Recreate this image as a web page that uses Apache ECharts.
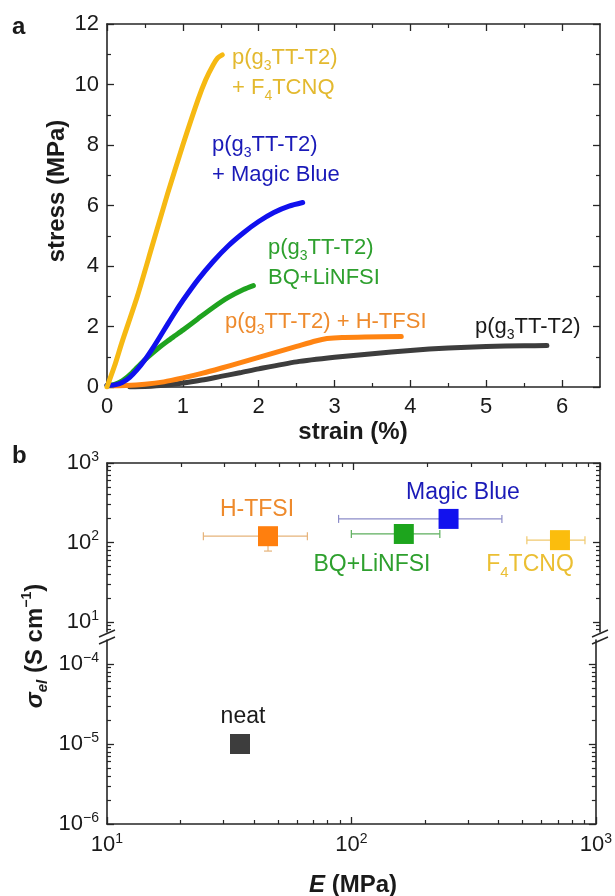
<!DOCTYPE html>
<html>
<head>
<meta charset="utf-8">
<script src="https://cdn.jsdelivr.net/npm/echarts@6/dist/echarts.min.js"></script>
<style>
  html, body { margin: 0; padding: 0; background: #ffffff; }
  #chart { width: 615px; height: 896px; }
</style>
</head>
<body>
<div id="chart"></div>
<script>
// ---------- panel a: stress–strain curves, [strain (%), stress (MPa)] ----------
const curveNeat = [[0.3,0],[0.5,0.02],[0.75,0.06],[1.0,0.13],[1.25,0.23],[1.5,0.35],[1.75,0.47],[2.0,0.6],[2.5,0.83],[3.0,0.98],[3.5,1.1],[4.0,1.21],[4.5,1.29],[5.0,1.34],[5.5,1.36],[5.8,1.37]];
const curveHTFSI = [[0,0.04],[0.25,0.05],[0.5,0.09],[0.75,0.17],[1.0,0.3],[1.25,0.45],[1.5,0.62],[1.75,0.8],[2.0,0.98],[2.25,1.16],[2.5,1.34],[2.75,1.52],[2.9,1.6],[3.1,1.64],[3.4,1.65],[3.88,1.67]];
const curveBQ = [[0,0.05],[0.1,0.09],[0.2,0.2],[0.3,0.4],[0.4,0.65],[0.5,0.9],[0.6,1.12],[0.7,1.33],[0.8,1.52],[0.9,1.7],[1.0,1.88],[1.2,2.26],[1.4,2.63],[1.6,2.96],[1.8,3.22],[1.93,3.35]];
const curveMagicBlue = [[0,0.05],[0.1,0.07],[0.2,0.15],[0.3,0.32],[0.4,0.58],[0.5,0.9],[0.6,1.27],[0.7,1.67],[0.8,2.08],[0.9,2.48],[1.0,2.86],[1.2,3.55],[1.4,4.15],[1.6,4.67],[1.8,5.1],[2.0,5.47],[2.2,5.77],[2.4,5.98],[2.58,6.1]];
const curveF4TCNQ = [[0,0],[0.1,0.7],[0.2,1.5],[0.4,3.0],[0.6,4.7],[0.8,6.4],[1.0,8.0],[1.2,9.5],[1.3,10.15],[1.4,10.65],[1.46,10.88],[1.52,10.98]];

const strainTicks = [0, 1, 2, 3, 4, 5, 6];
const strainMinor = [0.5, 1.5, 2.5, 3.5, 4.5, 5.5];
const stressTicks = [0, 2, 4, 6, 8, 10, 12];
const stressMinor = [1, 3, 5, 7, 9, 11];

// ---------- panel b: conductivity vs. modulus ----------
const dopants = ['H-TFSI', 'Magic Blue', 'BQ+LiNFSI', 'F4TCNQ', 'neat'];
const modulus = [45, 243, 160, 688, 35];            // E (MPa)
const modulusLow = [24.6, 87, 98, 505, 35];
const modulusHigh = [65, 400, 224, 869, 35];
const conductivity = [120, 198, 128, 107, 1e-5];    // σ (S/cm)
const conductivityLow = [78, 198, 128, 107, 1e-5];
const conductivityHigh = [120, 198, 128, 107, 1e-5];
const modulusDecades = [1, 2, 3];
const sigmaDecadesHigh = [1, 2, 3];
const sigmaDecadesLow = [-6, -5, -4];

// ---------- styling ----------
const FONT = "'Liberation Sans', Arial, Helvetica, sans-serif";
const INK = '#1a1a1a';
const AXIS = '#262626';
const lineColors = { neat: '#3d3d3d', htfsi: '#ff8412', bq: '#1fa31f', mb: '#1010ee', f4: '#f6b913' };
const textColors = { neat: '#1a1a1a', htfsi: '#ee8a2c', bq: '#2ea02e', mb: '#1a1ab8', f4: '#e3b92f' };
const squareColors = ['#ff7f0e', '#1212ee', '#1da51d', '#fbbd0d', '#3d3d3d'];
const errColors = ['#e6b37a', '#8c8cc8', '#5dae5d', '#f0c96e', '#3d3d3d'];

// layout (pixels)
const PL = 107, PR = 15;
const gridA = { left: PL, right: PR, top: 24, height: 363 };
const gridBU = { left: PL, right: PR, top: 463, height: 169 };
const gridBL = { left: PL, right: PR, top: 640, height: 184 };
const upperSigmaRange = [0.874, 3];
const lowerSigmaRange = [-6, -3.7];

const lg = Math.log10;

function logMinors(lo, hi) {
  const out = [];
  for (let n = Math.floor(lo); n < hi; n++) {
    for (let k = 2; k <= 9; k++) {
      const v = n + lg(k);
      if (v > lo + 1e-6 && v < hi - 1e-6) out.push(v);
    }
  }
  return out;
}

function pow10Label(v) {
  const n = Math.round(v);
  return '{b|10}{s|' + (n < 0 ? '\u2212' + (-n) : n) + '}';
}
const powRich = {
  b: { fontSize: 22, fontFamily: FONT, color: INK, lineHeight: 26 },
  s: { fontSize: 14, fontFamily: FONT, color: INK, lineHeight: 14, verticalAlign: 'top' }
};

// major + minor axis pair sharing one side of a grid
function axisPair(gridIndex, position, min, max, majors, minors, label) {
  const common = {
    type: 'value', gridIndex, position, min, max,
    splitLine: { show: false }, axisPointer: { show: false }
  };
  const major = Object.assign({}, common, {
    axisLine: { show: true, onZero: false, lineStyle: { color: AXIS, width: 1.6 } },
    axisTick: { show: true, inside: true, length: 7, customValues: majors, lineStyle: { color: AXIS, width: 1.3 } },
    axisLabel: label ? Object.assign({ show: true, customValues: majors }, label) : { show: false }
  });
  const minor = Object.assign({}, common, {
    axisLine: { show: false, onZero: false },
    axisTick: { show: true, inside: true, length: 4, customValues: minors, lineStyle: { color: AXIS, width: 1.2 } },
    axisLabel: { show: false }
  });
  return [major, minor];
}

const linLabel = { fontSize: 22, fontFamily: FONT, color: INK };
const sigUpMinor = logMinors(upperSigmaRange[0], upperSigmaRange[1]);
const sigLowMinor = logMinors(lowerSigmaRange[0], lowerSigmaRange[1]);
const eMinor = logMinors(1, 3);

const xAxes = [].concat(
  axisPair(0, 'bottom', 0, 6.5, strainTicks, strainMinor, Object.assign({ margin: 9 }, linLabel)),   // 0,1
  axisPair(0, 'top', 0, 6.5, strainTicks, strainMinor, null),                                          // 2,3
  axisPair(1, 'top', 1, 3, modulusDecades, eMinor, null),                                               // 4,5
  axisPair(2, 'bottom', 1, 3, modulusDecades, eMinor, { margin: 8, formatter: pow10Label, rich: powRich }) // 6,7
);
const yAxes = [].concat(
  axisPair(0, 'left', 0, 12, stressTicks, stressMinor, Object.assign({ margin: 8 }, linLabel)),          // 0,1
  axisPair(0, 'right', 0, 12, stressTicks, stressMinor, null),                                           // 2,3
  axisPair(1, 'left', upperSigmaRange[0], upperSigmaRange[1], sigmaDecadesHigh, sigUpMinor, { margin: 8, formatter: pow10Label, rich: powRich }), // 4,5
  axisPair(1, 'right', upperSigmaRange[0], upperSigmaRange[1], sigmaDecadesHigh, sigUpMinor, null),       // 6,7
  axisPair(2, 'left', lowerSigmaRange[0], lowerSigmaRange[1], sigmaDecadesLow, sigLowMinor, { margin: 8, formatter: pow10Label, rich: powRich }), // 8,9
  axisPair(2, 'right', lowerSigmaRange[0], lowerSigmaRange[1], sigmaDecadesLow, sigLowMinor, null)        // 10,11
);

function curve(name, data, color) {
  return {
    type: 'line', name, data, xAxisIndex: 0, yAxisIndex: 0,
    showSymbol: false, smooth: 0.25,
    lineStyle: { color, width: 5, cap: 'round', join: 'round' },
    silent: true
  };
}

// points split into the two segments of the broken conductivity axis
const upperIdx = [], lowerIdx = [];
conductivity.forEach((v, i) => (v >= 1 ? upperIdx : lowerIdx).push(i));
const pointRow = i => ({
  value: [lg(modulus[i]), lg(conductivity[i])],
  itemStyle: { color: squareColors[i], opacity: 1 }
});
const errRow = i => [lg(modulus[i]), lg(conductivity[i]), lg(modulusLow[i]), lg(modulusHigh[i]),
  lg(conductivityLow[i]), lg(conductivityHigh[i]), i];

function renderErr(params, api) {
  const x = api.value(0), y = api.value(1);
  const pl = api.coord([api.value(2), y]), pr = api.coord([api.value(3), y]);
  const pb = api.coord([x, api.value(4)]), pt = api.coord([x, api.value(5)]);
  const st = { stroke: errColors[api.value(6)], lineWidth: 1.2 };
  const c = 4;
  const kids = [];
  if (pr[0] - pl[0] > 0.5) {
    kids.push({ type: 'line', shape: { x1: pl[0], y1: pl[1], x2: pr[0], y2: pr[1] }, style: st });
    kids.push({ type: 'line', shape: { x1: pl[0], y1: pl[1] - c, x2: pl[0], y2: pl[1] + c }, style: st });
    kids.push({ type: 'line', shape: { x1: pr[0], y1: pr[1] - c, x2: pr[0], y2: pr[1] + c }, style: st });
  }
  if (pb[1] - pt[1] > 0.5) {
    kids.push({ type: 'line', shape: { x1: pb[0], y1: pb[1], x2: pt[0], y2: pt[1] }, style: st });
    kids.push({ type: 'line', shape: { x1: pb[0] - c, y1: pb[1], x2: pb[0] + c, y2: pb[1] }, style: st });
    kids.push({ type: 'line', shape: { x1: pt[0] - c, y1: pt[1], x2: pt[0] + c, y2: pt[1] }, style: st });
  }
  return { type: 'group', children: kids };
}

const series = [
  curve('p(g3TT-T2)', curveNeat, lineColors.neat),
  curve('+ H-TFSI', curveHTFSI, lineColors.htfsi),
  curve('BQ+LiNFSI', curveBQ, lineColors.bq),
  curve('+ Magic Blue', curveMagicBlue, lineColors.mb),
  curve('+ F4TCNQ', curveF4TCNQ, lineColors.f4),
  {
    type: 'custom', xAxisIndex: 4, yAxisIndex: 4, renderItem: renderErr,
    data: upperIdx.map(errRow), encode: { x: 0, y: 1 }, silent: true, z: 2
  },
  {
    type: 'scatter', xAxisIndex: 4, yAxisIndex: 4, symbol: 'rect', symbolSize: 20,
    itemStyle: { opacity: 1 }, data: upperIdx.map(pointRow), silent: true, z: 3
  },
  {
    type: 'scatter', xAxisIndex: 6, yAxisIndex: 8, symbol: 'rect', symbolSize: 20,
    itemStyle: { opacity: 1 }, data: lowerIdx.map(pointRow), silent: true, z: 3
  }
];

// ---------- annotations ----------
function richSpec(color, size, lh) {
  return {
    n: { fontSize: size, fontFamily: FONT, fill: color, lineHeight: lh },
    s: { fontSize: Math.round(size * 0.64), fontFamily: FONT, fill: color, lineHeight: 14, verticalAlign: 'bottom' }
  };
}
const POLY = '{n|p(g}{s|3}{n|TT-T2)}';
function note(text, color, x, y, size, align, vAlign) {
  return {
    type: 'text', x, y, silent: true,
    style: {
      text, rich: richSpec(color, size, 30), fill: color,
      font: size + 'px ' + FONT, align: align || 'left', verticalAlign: vAlign || 'top'
    }
  };
}
function title(text, x, y, rot, rich) {
  return {
    type: 'text', x, y, rotation: rot || 0, silent: true,
    style: {
      text, rich, fill: INK, font: 'bold 24px ' + FONT,
      align: 'center', verticalAlign: 'middle'
    }
  };
}
const breakY = [633.5, 640.5];
const breakMarks = [];
[PL, 615 - PR].forEach(x => breakY.forEach(y => breakMarks.push({
  type: 'line', silent: true,
  shape: { x1: x - 8, y1: y + 3.5, x2: x + 8, y2: y - 3.5 },
  style: { stroke: AXIS, lineWidth: 1.4 }
})));

const graphics = [
  { type: 'text', x: 12, y: 27.5, style: { text: 'a', fill: INK, font: 'bold 24px ' + FONT, verticalAlign: 'middle' } },
  { type: 'text', x: 12, y: 456.5, style: { text: 'b', fill: INK, font: 'bold 24px ' + FONT, verticalAlign: 'middle' } },
  note(POLY + '\n{n|+ F}{s|4}{n|TCNQ}', textColors.f4, 232, 43, 22),
  note(POLY + '\n{n|+ Magic Blue}', textColors.mb, 212, 130, 22),
  note(POLY + '\n{n|BQ+LiNFSI}', textColors.bq, 268, 233, 22),
  note(POLY + '{n| + H-TFSI}', textColors.htfsi, 225, 307, 22),
  note(POLY, textColors.neat, 475, 312, 22),
  note('{n|H-TFSI}', textColors.htfsi, 257, 510, 23, 'center', 'middle'),
  note('{n|Magic Blue}', textColors.mb, 463, 493, 23, 'center', 'middle'),
  note('{n|BQ+LiNFSI}', textColors.bq, 372, 565, 23, 'center', 'middle'),
  note('{n|F}{s|4}{n|TCNQ}', '#ebbf33', 530, 565, 23, 'center', 'middle'),
  note('{n|neat}', INK, 243, 717, 23, 'center', 'middle'),
  title('stress (MPa)', 57, 191, Math.PI / 2),
  title('strain (%)', 353, 432, 0),
  title('{i|E}{n| (MPa)}', 353, 885, 0, {
    i: { font: 'italic bold 24px ' + FONT, fill: INK },
    n: { font: 'bold 24px ' + FONT, fill: INK }
  }),
  title('{g|\u03c3}{e|el}{n| (S cm}{p|\u22121}{n|)}', 35, 646, Math.PI / 2, {
    g: { font: 'italic bold 24px ' + FONT, fill: INK, lineHeight: 30 },
    e: { font: 'italic bold 15px ' + FONT, fill: INK, lineHeight: 15, verticalAlign: 'bottom' },
    n: { font: 'bold 24px ' + FONT, fill: INK, lineHeight: 30 },
    p: { font: 'bold 14px ' + FONT, fill: INK, lineHeight: 14, verticalAlign: 'top' }
  })
].concat(breakMarks);

const chart = echarts.init(document.getElementById('chart'), null, { renderer: 'canvas' });
chart.setOption({
  backgroundColor: '#ffffff',
  animation: false,
  textStyle: { fontFamily: FONT },
  grid: [gridA, gridBU, gridBL].map(g => Object.assign({ containLabel: false, show: false }, g)),
  xAxis: xAxes,
  yAxis: yAxes,
  series,
  graphic: graphics
});
</script>
</body>
</html>
